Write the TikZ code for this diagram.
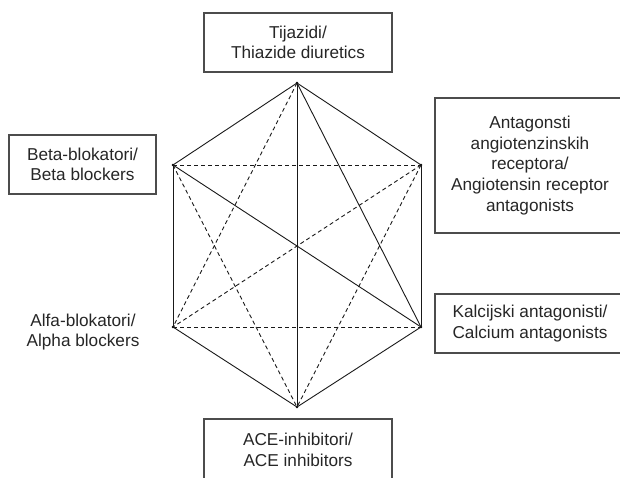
\documentclass[tikz,border=0pt]{standalone}
\usepackage{fontspec}
\setmainfont{Liberation Sans}
\begin{document}
\begin{tikzpicture}[x=1pt,y=-1pt,
  box/.style={draw=black!70, line width=1.1pt, align=center, text=black!85, inner sep=0pt,
    font=\fontsize{17.2}{20.6}\selectfont},
  lbl/.style={align=center, text=black!85, inner sep=0pt, font=\fontsize{17.2}{20.6}\selectfont},
  vtx/.style={circle, fill=black, inner sep=0pt, minimum size=2.6pt},
  solidedge/.style={draw=black!90, line width=0.9pt},
  dashedge/.style={draw=black!90, line width=0.9pt, dash pattern=on 4pt off 3pt}]
\useasboundingbox (0,0) rectangle (620,477);
\clip (0,0) rectangle (620,477);
% vertices
\node[vtx] (T) at (297,83) {};
\node[vtx] (UL) at (173,165) {};
\node[vtx] (UR) at (421,165) {};
\node[vtx] (LL) at (173,327) {};
\node[vtx] (LR) at (421,327) {};
\node[vtx] (B) at (297,407) {};
% solid edges
\draw[solidedge] (T.center) -- (UL.center);
\draw[solidedge] (T.center) -- (UR.center);
\draw[solidedge] (UL.center) -- (LL.center);
\draw[solidedge] (UR.center) -- (LR.center);
\draw[solidedge] (LL.center) -- (B.center);
\draw[solidedge] (LR.center) -- (B.center);
\draw[solidedge] (T.center) -- (B.center);
\draw[solidedge] (T.center) -- (LR.center);
\draw[solidedge] (UL.center) -- (LR.center);
% dashed edges
\draw[dashedge] (UL.center) -- (UR.center);
\draw[dashedge] (LL.center) -- (LR.center);
\draw[dashedge] (UL.center) -- (B.center);
\draw[dashedge] (UR.center) -- (LL.center);
\draw[dashedge] (T.center) -- (LL.center);
\draw[dashedge] (UR.center) -- (B.center);
% boxes
\node[box, minimum width=188pt, minimum height=59pt] (thz) at (298,42.5) {Tijazidi/\\Thiazide diuretics};
\node[box, minimum width=190pt, minimum height=135pt] (arb) at (530,165.5) {Antagonsti\\angiotenzinskih\\receptora/\\Angiotensin receptor\\antagonists};
\node[box, minimum width=147pt, minimum height=59pt] (beta) at (82.5,164.5) {Beta-blokatori/\\Beta blockers};
\node[lbl] (alfa) at (83,332) {Alfa-blokatori/\\Alpha blockers};
\node[box, minimum width=190pt, minimum height=59pt] (cca) at (530,323.5) {Kalcijski antagonisti/\\Calcium antagonists};
\node[box, minimum width=188pt, minimum height=62pt] (ace) at (298,450) {ACE-inhibitori/\\ACE inhibitors};
\end{tikzpicture}
\end{document}
